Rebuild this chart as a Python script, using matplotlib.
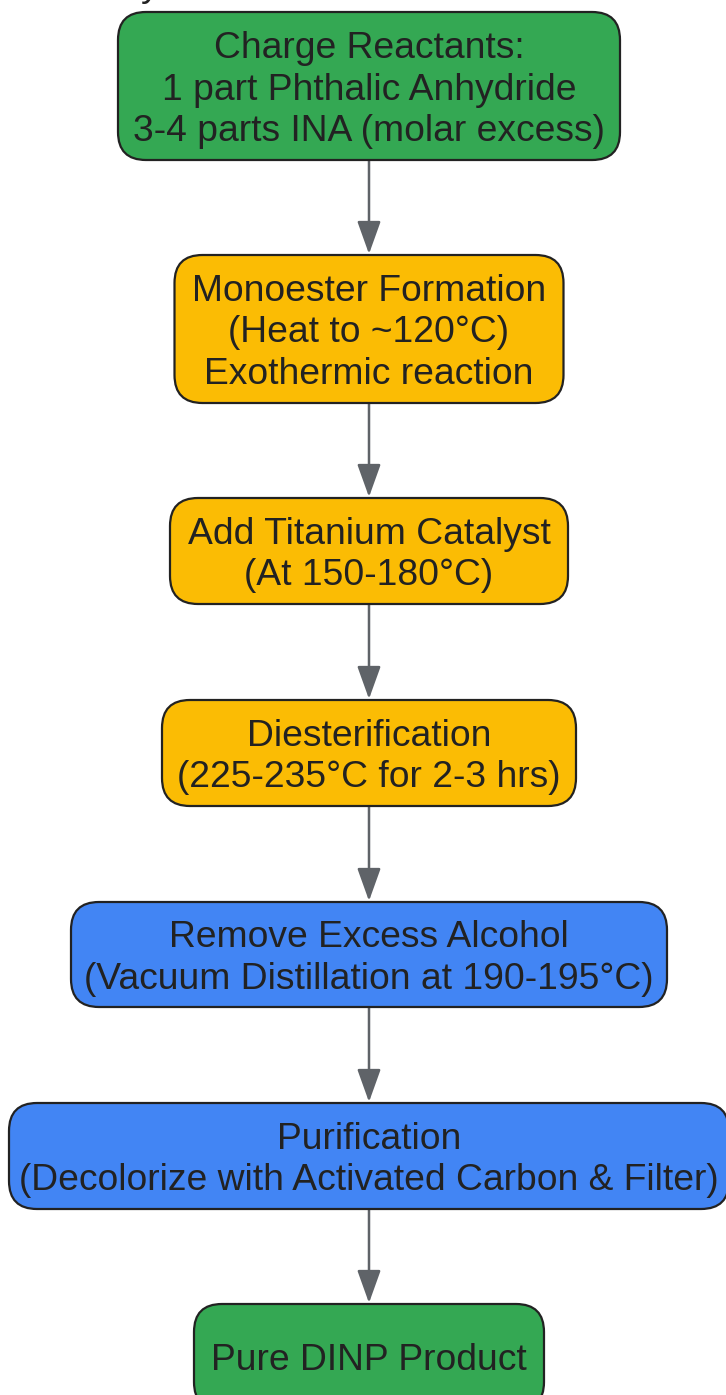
import matplotlib
matplotlib.use("Agg")
import matplotlib.pyplot as plt
from matplotlib.patches import FancyBboxPatch, FancyArrowPatch

# ---- data ----
step_labels = [
    ["Charge Reactants:", "1 part Phthalic Anhydride", "3-4 parts INA (molar excess)"],
    ["Monoester Formation", "(Heat to ~120°C)", "Exothermic reaction"],
    ["Add Titanium Catalyst", "(At 150-180°C)"],
    ["Diesterification", "(225-235°C for 2-3 hrs)"],
    ["Remove Excess Alcohol", "(Vacuum Distillation at 190-195°C)"],
    ["Purification", "(Decolorize with Activated Carbon & Filter)"],
    ["Pure DINP Product"],
]
step_kind = ["endpoint", "reaction", "reaction", "reaction", "separation", "separation", "endpoint"]

# ---- layout / style ----
W, H = 726, 1395
kind_color = {"endpoint": "#34a853", "reaction": "#fbbc04", "separation": "#4285f4"}
box_top = [12, 255, 498, 700, 902, 1103, 1304]
box_height = [148, 148, 106, 106, 105, 106, 106]
box_width = [502, 389, 398, 414, 596, 720, 350]
cx = 369
line_gap = 41.5
radius = 28
text_color = "#222222"
edge_color = "#222222"
arrow_color = "#5f6368"
font = "Liberation Sans"
fs = 26.8

fig = plt.figure(figsize=(W / 100, H / 100), dpi=100)
ax = fig.add_axes([0, 0, 1, 1])
ax.set_xlim(0, W)
ax.set_ylim(H, 0)
ax.axis("off")

# cut-off title descender at the very top (as in the reference)
ax.text(150, -4, "y", ha="center", va="baseline", fontsize=fs, family=font,
        color=text_color, clip_on=False)

for i, (lines, kind) in enumerate(zip(step_labels, step_kind)):
    top, h, w = box_top[i], box_height[i], box_width[i]
    patch = FancyBboxPatch((cx - w / 2, top), w, h,
                           boxstyle=f"round,pad=0,rounding_size={radius}",
                           facecolor=kind_color[kind], edgecolor=edge_color,
                           linewidth=1.6, zorder=2)
    ax.add_patch(patch)
    yc = top + h / 2
    n = len(lines)
    for k, s in enumerate(lines):
        y = yc + (k - (n - 1) / 2) * line_gap
        ax.text(cx, y, s, ha="center", va="center_baseline", fontsize=fs,
                family=font, color=text_color, zorder=3)

for i in range(len(step_labels) - 1):
    y0 = box_top[i] + box_height[i]
    y1 = box_top[i + 1]
    arr = FancyArrowPatch((cx, y0), (cx, y1 - 1),
                          arrowstyle="-|>,head_length=1.45,head_width=0.52",
                          mutation_scale=14, color=arrow_color, linewidth=1.8,
                          shrinkA=0, shrinkB=0, zorder=1)
    ax.add_patch(arr)

fig.savefig("out.png", dpi=100)
